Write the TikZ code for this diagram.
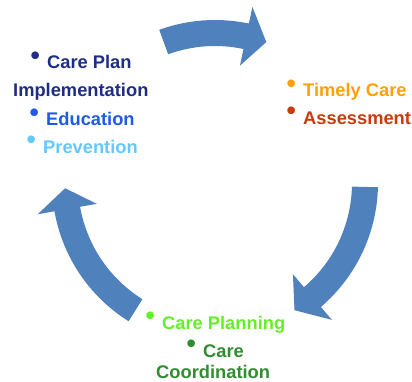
\documentclass[tikz,border=0pt]{standalone}
\usepackage{fontspec}
\setmainfont{Liberation Sans}
\definecolor{arrowblue}{RGB}{79,129,189}
\definecolor{implblue}{RGB}{31,46,130}
\definecolor{edublue}{RGB}{30,90,230}
\definecolor{prevblue}{RGB}{100,200,255}
\definecolor{timelyorange}{RGB}{255,160,10}
\definecolor{assessred}{RGB}{200,60,10}
\definecolor{planlime}{RGB}{100,240,40}
\definecolor{coordgreen}{RGB}{50,140,50}
\newcommand\blt{\llap{\raisebox{.22em}{\scalebox{1.45}{\textbullet}}\hspace{.4em}}}

\begin{document}
\begin{tikzpicture}[x=1pt,y=1pt,
  lbl/.style={inner sep=0pt,anchor=base west,font=\fontsize{18.3}{22}\selectfont\bfseries}]
  \useasboundingbox (0,0) rectangle (412,381);
  \def\ri{137} \def\ro{163} % band radii
  \def\hi{120} \def\ho{180} % head radii
  \begin{scope}[shift={(215,198)}]
    \foreach \ta/\hb/\tp in {110/78/70, -1.5/-49.5/-58, 238/190/182}
      \fill[arrowblue] (\ta:\ro) arc[start angle=\ta,end angle=\hb,radius=\ro]
        -- (\hb:\ho) -- (\tp:150) -- (\hb:\hi) -- (\hb:\ri)
        arc[start angle=\hb,end angle=\ta,radius=\ri] -- cycle;
  \end{scope}

  \node[lbl,text=implblue] (care plan) at (47,312) {\blt Care Plan};
  \node[lbl,text=implblue] (impl) at (13,284) {Implementation};
  \node[lbl,text=edublue] (edu) at (46,255) {\blt Education};
  \node[lbl,text=prevblue] (prev) at (43,228) {\blt Prevention};
  \node[lbl,text=timelyorange] (timely) at (303,284) {\blt Timely Care};
  \node[lbl,text=assessred] (assess) at (303,257) {\blt Assessment};
  \node[lbl,text=planlime] (plan) at (162,52) {\blt Care Planning};
  \node[lbl,text=coordgreen] (care) at (203,24) {\blt Care};
  \node[lbl,text=coordgreen] (coord) at (156,3) {Coordination};
\end{tikzpicture}
\end{document}
